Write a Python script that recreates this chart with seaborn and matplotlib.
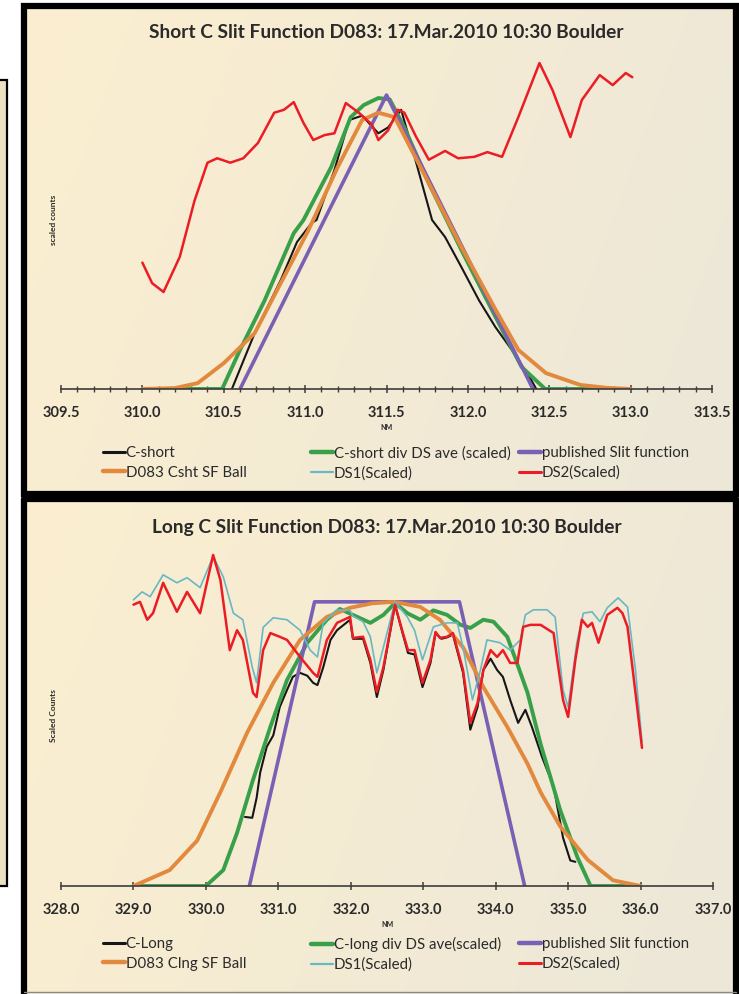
import numpy as np
import pandas as pd
import matplotlib
matplotlib.use("Agg")
import matplotlib.pyplot as plt
from matplotlib.lines import Line2D
from matplotlib.patches import Rectangle
from matplotlib.ticker import MultipleLocator, FormatStrFormatter
import seaborn as sns

# ---------------- data: short C slit (nm, scaled counts) ----------------
C_SHORT = [(310.55, 0.0), (310.69, 0.19), (310.85, 0.37), (310.95, 0.50), (311.04, 0.565),
           (311.07, 0.575), (311.18, 0.745), (311.27, 0.915), (311.35, 0.93), (311.45, 0.87),
           (311.51, 0.89), (311.59, 0.95), (311.69, 0.755), (311.78, 0.575), (311.86, 0.517),
           (311.96, 0.415), (312.07, 0.30), (312.17, 0.21), (312.27, 0.133), (312.38, 0.04),
           (312.42, 0.0)]
C_SHORT_DIV = [(310.0, 0.0), (310.49, 0.0), (310.6, 0.133), (310.75, 0.30), (310.93, 0.53),
               (310.99, 0.575), (311.16, 0.755), (311.28, 0.925), (311.36, 0.966), (311.45, 0.99),
               (311.52, 0.985), (311.61, 0.89), (311.76, 0.70), (311.96, 0.473), (312.17, 0.245),
               (312.33, 0.075), (312.475, 0.0), (313.0, 0.0)]
PUBLISHED_SHORT = [(310.6, 0.0), (311.5, 1.0), (312.4, 0.0)]
BALL_SHORT = [(310.0, 0.0), (310.2, 0.003), (310.34, 0.02), (310.5, 0.088), (310.69, 0.19),
              (310.85, 0.36), (311.02, 0.54), (311.2, 0.755), (311.35, 0.915), (311.45, 0.94),
              (311.55, 0.925), (311.76, 0.70), (311.96, 0.483), (312.17, 0.27), (312.31, 0.133),
              (312.48, 0.054), (312.69, 0.014), (312.85, 0.004), (313.0, 0.0)]
DS2_SHORT = [(310.0, 0.43), (310.06, 0.36), (310.13, 0.33), (310.23, 0.45), (310.32, 0.64),
             (310.4, 0.77), (310.46, 0.785), (310.54, 0.77), (310.62, 0.785), (310.71, 0.837),
             (310.81, 0.94), (310.87, 0.95), (310.93, 0.976), (310.99, 0.905), (311.05, 0.847),
             (311.12, 0.864), (311.18, 0.87), (311.25, 0.973), (311.33, 0.94), (311.41, 0.90),
             (311.45, 0.847), (311.51, 0.88), (311.57, 0.95), (311.61, 0.94), (311.68, 0.86),
             (311.76, 0.78), (311.86, 0.81), (311.94, 0.785), (312.04, 0.79), (312.12, 0.806),
             (312.21, 0.79), (312.31, 0.925), (312.44, 1.109), (312.52, 1.017), (312.63, 0.857),
             (312.7, 0.983), (312.81, 1.068), (312.89, 1.034), (312.97, 1.075), (313.01, 1.061)]

# ---------------- data: long C slit (nm, scaled counts) ----------------
C_LONG = [(330.54, 0.243), (330.64, 0.24), (330.7, 0.31), (330.75, 0.40), (330.84, 0.49),
          (330.93, 0.53), (331.02, 0.63), (331.12, 0.69), (331.2, 0.736), (331.3, 0.75),
          (331.4, 0.74), (331.48, 0.715), (331.54, 0.707), (331.62, 0.77), (331.72, 0.866),
          (331.81, 0.90), (331.99, 0.937), (332.03, 0.87), (332.17, 0.87), (332.27, 0.785),
          (332.36, 0.665), (332.45, 0.76), (332.61, 0.99), (332.72, 0.885), (332.79, 0.82),
          (332.88, 0.815), (332.99, 0.70), (333.1, 0.785), (333.17, 0.89), (333.25, 0.87),
          (333.33, 0.875), (333.41, 0.885), (333.55, 0.75), (333.65, 0.55), (333.75, 0.63),
          (333.83, 0.76), (333.93, 0.80), (334.02, 0.76), (334.1, 0.736), (334.2, 0.655),
          (334.31, 0.574), (334.41, 0.62), (334.5, 0.56), (334.64, 0.454), (334.8, 0.35),
          (334.93, 0.17), (335.03, 0.09), (335.1, 0.085)]
C_LONG_DIV = [(329.0, 0.0), (330.0, 0.0), (330.24, 0.056), (330.43, 0.187), (330.65, 0.373),
              (330.89, 0.56), (331.12, 0.725), (331.4, 0.856), (331.67, 0.937), (331.85, 0.975),
              (332.03, 0.954), (332.27, 0.926), (332.45, 0.954), (332.61, 0.996), (332.78, 0.96),
              (332.96, 0.937), (333.14, 0.97), (333.33, 0.954), (333.51, 0.92), (333.65, 0.908),
              (333.83, 0.937), (333.97, 0.93), (334.16, 0.877), (334.3, 0.78), (334.44, 0.68),
              (334.62, 0.50), (334.89, 0.268), (335.13, 0.10), (335.31, 0.0), (336.0, 0.0)]
PUBLISHED_LONG = [(330.6, 0.0), (331.5, 1.0), (333.5, 1.0), (334.4, 0.0)]
BALL_LONG = [(329.0, 0.0), (329.5, 0.056), (329.88, 0.16), (330.2, 0.33), (330.57, 0.54),
             (330.93, 0.715), (331.3, 0.866), (331.67, 0.947), (331.99, 0.979), (332.3, 0.995),
             (332.6, 1.0), (332.96, 0.982), (333.23, 0.937), (333.55, 0.84), (333.83, 0.70),
             (334.16, 0.56), (334.44, 0.43), (334.62, 0.33), (334.89, 0.21), (335.27, 0.092),
             (335.62, 0.02), (336.0, 0.0)]
DS1_LONG = [(329.0, 1.007), (329.12, 1.035), (329.23, 1.018), (329.41, 1.095), (329.6, 1.067),
            (329.74, 1.085), (329.92, 1.05), (330.1, 1.16), (330.24, 1.088), (330.38, 0.96),
            (330.51, 0.937), (330.64, 0.77), (330.7, 0.715), (330.79, 0.91), (330.93, 0.944),
            (331.12, 0.937), (331.3, 0.90), (331.44, 0.83), (331.54, 0.806), (331.62, 0.926),
            (331.81, 0.972), (331.99, 0.97), (332.03, 0.95), (332.17, 0.93), (332.27, 0.877),
            (332.36, 0.75), (332.45, 0.84), (332.61, 1.0), (332.78, 0.947), (332.88, 0.90),
            (332.99, 0.796), (333.14, 0.912), (333.33, 0.926), (333.47, 0.926), (333.55, 0.84),
            (333.68, 0.655), (333.79, 0.76), (333.88, 0.866), (334.06, 0.856), (334.2, 0.83),
            (334.34, 0.866), (334.41, 0.954), (334.52, 0.972), (334.71, 0.972), (334.82, 0.947),
            (334.93, 0.69), (335.0, 0.63), (335.12, 0.856), (335.21, 0.96), (335.33, 0.965),
            (335.44, 0.93), (335.54, 0.979), (335.69, 1.014), (335.82, 0.982), (335.93, 0.76),
            (336.02, 0.507)]
DS2_LONG = [(329.0, 0.99), (329.09, 1.0), (329.19, 0.937), (329.27, 0.96), (329.41, 1.067),
            (329.6, 0.965), (329.74, 1.035), (329.92, 0.96), (330.1, 1.165), (330.2, 1.077),
            (330.33, 0.83), (330.43, 0.90), (330.51, 0.866), (330.65, 0.68), (330.7, 0.665),
            (330.79, 0.83), (330.89, 0.89), (331.02, 0.877), (331.12, 0.866), (331.3, 0.806),
            (331.48, 0.75), (331.54, 0.736), (331.67, 0.866), (331.81, 0.926), (331.99, 0.947),
            (332.03, 0.873), (332.17, 0.877), (332.27, 0.796), (332.36, 0.683), (332.45, 0.77),
            (332.61, 0.99), (332.72, 0.89), (332.79, 0.83), (332.88, 0.83), (332.99, 0.715),
            (333.1, 0.796), (333.17, 0.894), (333.23, 0.873), (333.33, 0.877), (333.41, 0.89),
            (333.55, 0.76), (333.65, 0.574), (333.75, 0.644), (333.83, 0.76), (333.93, 0.83),
            (334.02, 0.806), (334.1, 0.83), (334.2, 0.785), (334.3, 0.785), (334.38, 0.912),
            (334.48, 0.919), (334.62, 0.919), (334.8, 0.89), (334.85, 0.796), (334.93, 0.655),
            (335.0, 0.595), (335.1, 0.796), (335.19, 0.937), (335.27, 0.912), (335.33, 0.926),
            (335.42, 0.856), (335.54, 0.954), (335.68, 0.979), (335.75, 0.96), (335.82, 0.912),
            (335.93, 0.68), (336.02, 0.486)]

SHORT_LABELS = ["C-short", "C-short div DS ave (scaled)", "published Slit function",
                "D083 Csht SF Ball", "DS1(Scaled)", "DS2(Scaled)"]
LONG_LABELS = ["C-Long", "C-long div DS ave(scaled)", "published Slit function",
               "D083 Clng SF Ball", "DS1(Scaled)", "DS2(Scaled)"]
SHORT_TITLE = "Short C Slit Function D083: 17.Mar.2010 10:30 Boulder"
LONG_TITLE = "Long C Slit Function D083: 17.Mar.2010 10:30 Boulder"

# ---------------- styling ----------------
COL_BLACK = "#161616"
COL_GREEN = "#39a04a"
COL_PURPLE = "#7a60b4"
COL_ORANGE = "#e3893d"
COL_TEAL = "#68b8c4"
COL_RED = "#ec1c24"
TXT = "#2a2a2a"

sns.set_theme(style="white")
plt.rcParams["font.family"] = ["Lato", "DejaVu Sans"]

W, H = 739, 994
fig = plt.figure(figsize=(W / 100, H / 100), dpi=100)
fig.patch.set_facecolor("white")

# pixel-space backdrop layer
bg = fig.add_axes([0, 0, 1, 1], zorder=-10)
bg.set_xlim(0, W)
bg.set_ylim(H, 0)
bg.axis("off")


def gradient_panel(x0, y0, x1, y1):
    nx, ny = 200, 120
    gx = np.linspace(0, 1, nx)[None, :]
    gy = np.linspace(0, 1, ny)[:, None]
    t = np.clip(0.8 * gx + 0.2 * gy, 0, 1)
    c0 = np.array([252, 239, 208]) / 255.0
    c1 = np.array([236, 231, 216]) / 255.0
    img = c0[None, None, :] * (1 - t[..., None]) + c1[None, None, :] * t[..., None]
    bg.imshow(img, extent=(x0, x1, y1, y0), aspect="auto", interpolation="bilinear", zorder=0)


# partial panel peeking out at the left edge
bg.add_patch(Rectangle((-5, 80), 12, 806, facecolor="#ece1c3", edgecolor="black", lw=1.6, zorder=1))

gradient_panel(24, 6, 736, 494)
gradient_panel(24, 499, 736, 994)
bg.add_patch(Rectangle((24, 6), 712, 488, fill=False, edgecolor="black", lw=4.5, zorder=3))
bg.plot([24, 24, 736, 736], [994, 499, 499, 994], color="black", lw=4.5, zorder=3,
        solid_capstyle="projecting")
bg.plot([24, 736], [992, 992], color="#8a8a8a", lw=1.0, zorder=3)


def frac_box(x0, y0, x1, y1):
    return [x0 / W, 1 - y1 / H, (x1 - x0) / W, (y1 - y0) / H]


def to_frame(pairs):
    return pd.DataFrame(pairs, columns=["nm", "counts"])


def draw_series(ax, pairs, color, lw):
    d = to_frame(pairs)
    sns.lineplot(data=d, x="nm", y="counts", ax=ax, color=color, lw=lw,
                 sort=False, estimator=None, legend=False,
                 solid_joinstyle="round", solid_capstyle="round")


def style_axis(ax, xlim, ylim, major, minor, ylabel):
    ax.set_xlim(*xlim)
    ax.set_ylim(*ylim)
    ax.patch.set_alpha(0)
    for s in ("left", "top", "right"):
        ax.spines[s].set_visible(False)
    ax.spines["bottom"].set_color("#3c3c3c")
    ax.spines["bottom"].set_linewidth(1.2)
    ax.xaxis.set_major_locator(MultipleLocator(major))
    if minor:
        ax.xaxis.set_minor_locator(MultipleLocator(minor))
    ax.xaxis.set_major_formatter(FormatStrFormatter("%.1f"))
    ax.set_yticks([])
    ax.tick_params(axis="x", which="major", direction="inout", length=6, width=1.1,
                   color="#3c3c3c", pad=9, labelsize=10.5, labelcolor=TXT, bottom=True)
    ax.tick_params(axis="x", which="minor", direction="inout", length=4, width=1.0,
                   color="#3c3c3c", bottom=True)
    for lab in ax.get_xticklabels():
        lab.set_fontweight("bold")
    ax.set_xlabel("NM", fontsize=5, fontweight="bold", color=TXT, labelpad=3)
    ax.set_ylabel(ylabel, fontsize=6, fontweight="bold", color=TXT)
    ax.yaxis.set_label_coords(-0.006, 0.5)
    ax.grid(False)


def add_legends(ax, labels, y_top):
    handles = [
        Line2D([], [], color=COL_BLACK, lw=2.2),
        Line2D([], [], color=COL_GREEN, lw=3.2),
        Line2D([], [], color=COL_PURPLE, lw=3.2),
        Line2D([], [], color=COL_ORANGE, lw=3.2),
        Line2D([], [], color=COL_TEAL, lw=1.6),
        Line2D([], [], color=COL_RED, lw=2.2),
    ]
    cols = [(103, [0, 3]), (311, [1, 4]), (519, [2, 5])]
    for x0, idx in cols:
        leg = ax.legend([handles[i] for i in idx], [labels[i] for i in idx],
                        loc="upper left", bbox_to_anchor=(x0 / W, 1 - y_top / H),
                        bbox_transform=fig.transFigure, frameon=False, fontsize=10.8,
                        handlelength=1.45, handletextpad=0.05, labelspacing=0.38,
                        borderpad=0, borderaxespad=0, labelcolor=TXT)
        ax.add_artist(leg)
    # each column is already attached as an artist; avoid drawing the last one twice
    ax.legend_ = None


def place_title(ax, text, y_px, ax_top_px, ax_h_px):
    # baseline of the title sits a few pixels below the text centre
    y = (ax_top_px - (y_px + 6)) / ax_h_px + 1
    ax.set_title(text, fontsize=13.8, fontweight="bold", color=TXT, y=y, pad=0)


# ---------------- short C panel ----------------
ax1 = fig.add_axes(frac_box(61, 51, 712, 389))
draw_series(ax1, C_SHORT, COL_BLACK, 1.5)
draw_series(ax1, C_SHORT_DIV, COL_GREEN, 2.8)
draw_series(ax1, PUBLISHED_SHORT, COL_PURPLE, 2.6)
draw_series(ax1, BALL_SHORT, COL_ORANGE, 2.8)
draw_series(ax1, DS2_SHORT, COL_RED, 1.8)
style_axis(ax1, (309.5, 313.5), (0, 1.15), 0.5, 0.1, "scaled counts")
place_title(ax1, SHORT_TITLE, 32, 51, 338)
add_legends(ax1, SHORT_LABELS, 446)

# ---------------- long C panel ----------------
ax2 = fig.add_axes(frac_box(61, 545, 713, 886))
draw_series(ax2, C_LONG, COL_BLACK, 1.5)
draw_series(ax2, C_LONG_DIV, COL_GREEN, 2.8)
draw_series(ax2, PUBLISHED_LONG, COL_PURPLE, 2.6)
draw_series(ax2, BALL_LONG, COL_ORANGE, 2.8)
draw_series(ax2, DS1_LONG, COL_TEAL, 1.2)
draw_series(ax2, DS2_LONG, COL_RED, 1.8)
style_axis(ax2, (328.0, 337.0), (0, 1.2), 1.0, None, "Scaled Counts")
place_title(ax2, LONG_TITLE, 527, 545, 341)
add_legends(ax2, LONG_LABELS, 937)

fig.savefig("out.png", dpi=100, facecolor=fig.get_facecolor())
